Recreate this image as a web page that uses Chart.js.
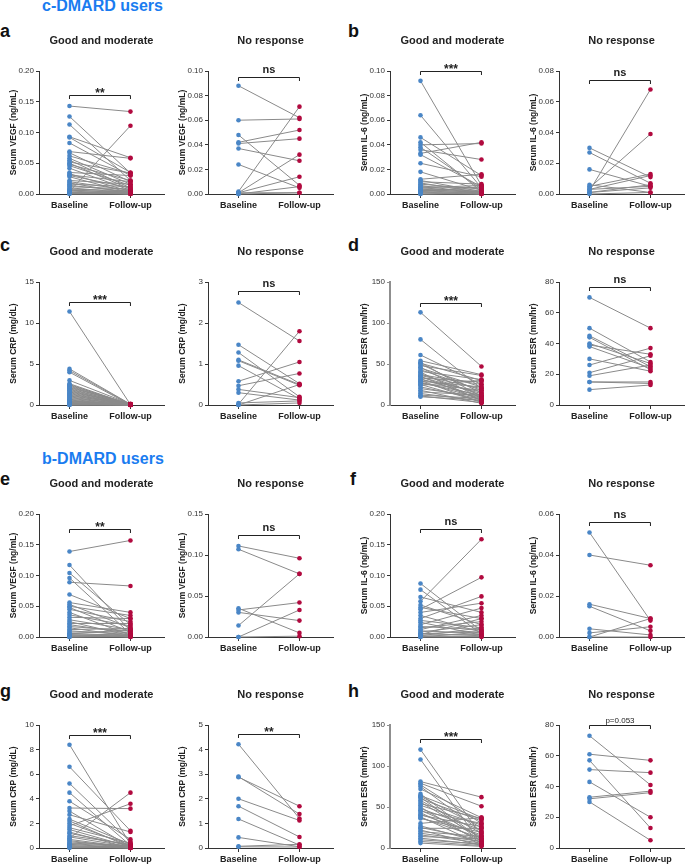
<!DOCTYPE html>
<html lang="en">
<head>
<meta charset="UTF-8">
<title>Serum markers before and after DMARD treatment</title>
<style>
    body {
        margin: 0;
        background: #fff;
        width: 685px;
        height: 866px;
        position: relative;
        overflow: hidden;
        font-family: 'Liberation Sans', Arial, sans-serif;
    }
    .group {
        position: absolute;
        left: 42px;
        font-size: 16px;
        line-height: 16px;
        font-weight: bold;
        color: #1a7cf0;
        white-space: nowrap;
    }
    .letter {
        position: absolute;
        font-size: 18px;
        line-height: 18px;
        font-weight: bold;
        color: #111;
    }
    canvas { position: absolute; }
</style>
</head>
<body>
<div class="group" style="top:-2px">c-DMARD users</div>
<div class="group" style="top:451px">b-DMARD users</div>
<div class="letter" style="left:0px;top:22px">a</div>
<div class="letter" style="left:348px;top:22px">b</div>
<div class="letter" style="left:0px;top:236px">c</div>
<div class="letter" style="left:348px;top:236px">d</div>
<div class="letter" style="left:0px;top:470px">e</div>
<div class="letter" style="left:350px;top:470px">f</div>
<div class="letter" style="left:0px;top:682px">g</div>
<div class="letter" style="left:348px;top:682px">h</div>

<script src="https://cdn.jsdelivr.net/npm/chart.js"></script>
<script>
// x categories
const timeLabels = ['Baseline', 'Follow-up'];

// c-DMARD users
const vegfGoodCBase = [0.143, 0.126, 0.113, 0.093, 0.092, 0.083, 0.069, 0.067, 0.062, 0.058,
    0.055, 0.052, 0.050, 0.048, 0.046, 0.042, 0.035, 0.033, 0.031, 0.030,
    0.028, 0.022, 0.020, 0.018, 0.016, 0.014, 0.012, 0.010, 0.008, 0.007,
    0.006, 0.005, 0.004, 0.003, 0.003, 0.002, 0.002, 0.001, 0.001, 0.000];
const vegfGoodCFollow = [0.134, 0.034, 0.022, 0.059, 0.035, 0.030, 0.058, 0.020, 0.033, 0.016,
    0.010, 0.034, 0.008, 0.022, 0.014, 0.006, 0.030, 0.004, 0.020, 0.010,
    0.002, 0.016, 0.006, 0.001, 0.012, 0.004, 0.008, 0.002, 0.005, 0.001,
    0.003, 0.000, 0.111, 0.002, 0.001, 0.004, 0.000, 0.002, 0.001, 0.000];
const vegfNoCBase = [0.088, 0.060, 0.048, 0.042, 0.041, 0.037, 0.024, 0.002, 0.001, 0.001, 0.000, 0.000, 0.001];
const vegfNoCFollow = [0.062, 0.061, 0.007, 0.052, 0.045, 0.027, 0.005, 0.071, 0.032, 0.014, 0.006, 0.001, 0.001];

const il6GoodCBase = [0.092, 0.064, 0.046, 0.042, 0.040, 0.038, 0.036, 0.033, 0.032, 0.025,
    0.018, 0.012, 0.011, 0.010, 0.009, 0.008, 0.007, 0.006, 0.005, 0.005,
    0.004, 0.004, 0.003, 0.003, 0.002, 0.002, 0.001, 0.001, 0.000, 0.000];
const il6GoodCFollow = [0.007, 0.005, 0.015, 0.002, 0.041, 0.004, 0.028, 0.042, 0.006, 0.014,
    0.003, 0.016, 0.002, 0.008, 0.001, 0.004, 0.000, 0.005, 0.002, 0.007,
    0.001, 0.003, 0.000, 0.002, 0.001, 0.006, 0.000, 0.002, 0.001, 0.000];
const il6NoCBase = [0.030, 0.027, 0.016, 0.006, 0.005, 0.004, 0.003, 0.002, 0.001, 0.000, 0.001, 0.003];
const il6NoCFollow = [0.011, 0.007, 0.005, 0.001, 0.013, 0.039, 0.012, 0.068, 0.004, 0.001, 0.006, 0.005];

const crpGoodCBase = [11.4, 4.4, 4.2, 4.0, 3.0, 2.6, 2.5, 2.4, 2.3, 2.2,
    2.1, 2.0, 1.9, 1.8, 1.7, 1.6, 1.5, 1.4, 1.3, 1.2,
    1.1, 1.0, 0.9, 0.8, 0.7, 0.6, 0.5, 0.5, 0.4, 0.4,
    0.3, 0.3, 0.2, 0.2, 0.1, 0.1, 0.1, 0.05, 0.0, 0.0];
const crpGoodCFollow = [0.05, 0.10, 0.08, 0.02, 0.12, 0.05, 0.00, 0.10, 0.03, 0.06,
    0.15, 0.02, 0.08, 0.00, 0.05, 0.10, 0.03, 0.00, 0.07, 0.02,
    0.10, 0.00, 0.04, 0.06, 0.00, 0.02, 0.05, 0.00, 0.03, 0.08,
    0.00, 0.01, 0.00, 0.04, 0.02, 0.00, 0.03, 0.01, 0.00, 0.02];
const crpNoCBase = [2.50, 1.47, 1.28, 1.10, 1.08, 0.96, 0.58, 0.47, 0.38, 0.30, 0.02, 0.05, 0.00, 0.00];
const crpNoCFollow = [1.56, 0.52, 0.20, 0.50, 0.48, 0.15, 1.05, 0.77, 0.18, 0.12, 1.80, 0.10, 0.50, 0.05];

const esrGoodCBase = [113, 80, 61, 54, 52, 51, 50, 48, 46, 45,
    43, 41, 40, 38, 37, 36, 35, 34, 33, 32,
    31, 30, 29, 28, 27, 26, 25, 24, 22, 20,
    18, 16, 14, 12, 11, 10];
const esrGoodCFollow = [47, 20, 25, 37, 10, 30, 15, 36, 8, 22,
    18, 31, 5, 12, 25, 20, 6, 14, 28, 10,
    16, 3, 22, 8, 12, 18, 4, 30, 7, 10,
    2, 12, 5, 8, 3, 6];
const esrNoCBase = [70, 50, 45, 44, 40, 39, 38, 30, 26, 21, 19, 15, 15, 10];
const esrNoCFollow = [50, 28, 25, 23, 27, 33, 24, 22, 37, 32, 26, 15, 14, 13];

// b-DMARD users
const vegfGoodBBase = [0.139, 0.117, 0.104, 0.096, 0.089, 0.069, 0.056, 0.053, 0.050, 0.048,
    0.045, 0.040, 0.036, 0.032, 0.028, 0.025, 0.022, 0.020, 0.017, 0.015,
    0.012, 0.010, 0.008, 0.006, 0.005, 0.004, 0.003, 0.002, 0.001, 0.000, 0.000];
const vegfGoodBFollow = [0.157, 0.010, 0.020, 0.005, 0.083, 0.030, 0.040, 0.015, 0.035, 0.008,
    0.025, 0.003, 0.018, 0.030, 0.012, 0.002, 0.022, 0.006, 0.010, 0.001,
    0.014, 0.004, 0.008, 0.002, 0.012, 0.000, 0.005, 0.003, 0.001, 0.002, 0.000];
const vegfNoBBase = [0.111, 0.107, 0.014, 0.035, 0.033, 0.030, 0.000, 0.000];
const vegfNoBFollow = [0.096, 0.077, 0.077, 0.005, 0.042, 0.020, 0.033, 0.001];

const il6GoodBBase = [0.087, 0.077, 0.065, 0.058, 0.052, 0.048, 0.045, 0.040, 0.035, 0.030,
    0.027, 0.024, 0.020, 0.017, 0.015, 0.012, 0.010, 0.008, 0.006, 0.005,
    0.004, 0.003, 0.002, 0.001, 0.000, 0.000];
const il6GoodBFollow = [0.010, 0.005, 0.040, 0.159, 0.020, 0.030, 0.097, 0.055, 0.008, 0.066,
    0.015, 0.003, 0.047, 0.012, 0.025, 0.035, 0.006, 0.020, 0.002, 0.010,
    0.030, 0.004, 0.015, 0.001, 0.008, 0.000];
const il6NoBBase = [0.051, 0.040, 0.016, 0.015, 0.004, 0.002, 0.000, 0.000];
const il6NoBFollow = [0.008, 0.035, 0.009, 0.003, 0.001, 0.005, 0.000, 0.009];

const crpGoodBBase = [8.4, 6.6, 5.25, 4.5, 3.8, 3.25, 3.0, 2.7, 2.35, 2.2,
    2.0, 1.8, 1.65, 1.5, 1.3, 1.2, 1.0, 0.9, 0.8, 0.7,
    0.6, 0.5, 0.4, 0.35, 0.3, 0.2, 0.15, 0.1, 0.05, 0.0];
const crpGoodBFollow = [0.3, 1.4, 0.5, 0.2, 0.7, 3.2, 0.1, 1.3, 0.3, 0.05,
    0.2, 3.6, 0.4, 0.1, 0.0, 0.2, 0.3, 0.1, 4.5, 0.05,
    0.0, 0.15, 0.2, 0.1, 0.0, 0.05, 0.1, 0.0, 0.05, 0.0];
const crpNoBBase = [4.22, 2.90, 2.88, 2.00, 1.70, 1.18, 0.43, 0.07, 0.05];
const crpNoBFollow = [1.20, 1.38, 1.70, 1.12, 0.45, 0.12, 0.05, 0.15, 0.04];

const esrGoodBBase = [120, 108, 81, 79, 77, 75, 72, 66, 64, 63,
    62, 60, 58, 56, 54, 52, 50, 48, 46, 45,
    43, 41, 40, 38, 37, 36, 30, 27, 25, 24,
    22, 20, 18, 16, 14, 12, 10, 8, 6];
const esrGoodBFollow = [15, 5, 62, 51, 30, 20, 37, 10, 35, 25,
    8, 33, 18, 12, 36, 28, 6, 22, 14, 30,
    9, 16, 26, 4, 12, 19, 37, 7, 10, 24,
    3, 14, 8, 6, 11, 4, 5, 3, 2];
const esrNoBBase = [73, 61, 57, 51, 43, 33, 32, 30];
const esrNoBFollow = [41, 57, 13, 49, 20, 37, 36, 5];

const BLUE = '#4a86c6';
const RED = '#b10a3f';
const GOOD = 'Good and moderate';
const NONE = 'No response';
const VEGF = 'Serum VEGF (ng/mL)';
const IL6 = 'Serum IL-6 (ng/mL)';
const CRP = 'Serum CRP (mg/dL)';
const ESR = 'Serum ESR (mm/hr)';

// axis x position of each column, top of each row
const cols = [39, 208, 390, 559];
const rows = [71, 282, 514, 725];

const panels = [
    { c: 0, r: 0, base: vegfGoodCBase, fol: vegfGoodCFollow, max: 0.20, step: 0.05, dec: 2, yt: VEGF, title: GOOD, by: 0.161, sig: '**' },
    { c: 1, r: 0, base: vegfNoCBase, fol: vegfNoCFollow, max: 0.10, step: 0.02, dec: 2, yt: VEGF, title: NONE, by: 0.095, sig: 'ns' },
    { c: 2, r: 0, base: il6GoodCBase, fol: il6GoodCFollow, max: 0.10, step: 0.02, dec: 2, yt: IL6, title: GOOD, by: 0.10, sig: '***' },
    { c: 3, r: 0, base: il6NoCBase, fol: il6NoCFollow, max: 0.08, step: 0.02, dec: 2, yt: IL6, title: NONE, by: 0.074, sig: 'ns' },
    { c: 0, r: 1, base: crpGoodCBase, fol: crpGoodCFollow, max: 15, step: 5, dec: 0, yt: CRP, title: GOOD, by: 12.6, sig: '***' },
    { c: 1, r: 1, base: crpNoCBase, fol: crpNoCFollow, max: 3, step: 1, dec: 0, yt: CRP, title: NONE, by: 2.77, sig: 'ns' },
    { c: 2, r: 1, base: esrGoodCBase, fol: esrGoodCFollow, max: 150, step: 50, dec: 0, yt: ESR, title: GOOD, by: 125, sig: '***', grey: true },
    { c: 3, r: 1, base: esrNoCBase, fol: esrNoCFollow, max: 80, step: 20, dec: 0, yt: ESR, title: NONE, by: 77, sig: 'ns' },
    { c: 0, r: 2, base: vegfGoodBBase, fol: vegfGoodBFollow, max: 0.20, step: 0.05, dec: 2, yt: VEGF, title: GOOD, by: 0.175, sig: '**' },
    { c: 1, r: 2, base: vegfNoBBase, fol: vegfNoBFollow, max: 0.15, step: 0.05, dec: 2, yt: VEGF, title: NONE, by: 0.124, sig: 'ns' },
    { c: 2, r: 2, base: il6GoodBBase, fol: il6GoodBFollow, max: 0.20, step: 0.05, dec: 2, yt: IL6, title: GOOD, by: 0.175, sig: 'ns' },
    { c: 3, r: 2, base: il6NoBBase, fol: il6NoBFollow, max: 0.06, step: 0.02, dec: 2, yt: IL6, title: NONE, by: 0.056, sig: 'ns' },
    { c: 0, r: 3, base: crpGoodBBase, fol: crpGoodBFollow, max: 10, step: 2, dec: 0, yt: CRP, title: GOOD, by: 9.2, sig: '***' },
    { c: 1, r: 3, base: crpNoBBase, fol: crpNoBFollow, max: 5, step: 1, dec: 0, yt: CRP, title: NONE, by: 4.63, sig: '**' },
    { c: 2, r: 3, base: esrGoodBBase, fol: esrGoodBFollow, max: 150, step: 50, dec: 0, yt: ESR, title: GOOD, by: 133, sig: '***', grey: true },
    { c: 3, r: 3, base: esrNoBBase, fol: esrNoBFollow, max: 80, step: 20, dec: 0, yt: ESR, title: NONE, by: 80, sig: 'p=0.053' }
];

const FONT = "'Liberation Sans', Arial, sans-serif";
const Y_W = 40, X_H = 22, PAD_TOP = 40, PLOT_H = 123, PLOT_W = 125;

// panel title and significance bracket
const bracketPlugin = {
    id: 'bracket',
    afterDraw(chart, args, opts) {
        const ctx = chart.ctx;
        const area = chart.chartArea;
        const x = chart.scales.x, y = chart.scales.y;
        ctx.save();
        ctx.fillStyle = '#222';
        ctx.textAlign = 'center';
        ctx.textBaseline = 'middle';
        ctx.font = 'bold 11px ' + FONT;
        ctx.fillText(opts.title, (area.left + area.right) / 2, area.top - 30);

        const x0 = x.getPixelForValue(0), x1 = x.getPixelForValue(1);
        const by = Math.round(y.getPixelForValue(opts.y)) + 0.5;
        ctx.strokeStyle = '#222';
        ctx.lineWidth = 1;
        ctx.beginPath();
        ctx.moveTo(x0, by + 3.5);
        ctx.lineTo(x0, by);
        ctx.lineTo(x1, by);
        ctx.lineTo(x1, by + 3.5);
        ctx.stroke();

        ctx.textBaseline = 'alphabetic';
        const mid = (x0 + x1) / 2;
        if (opts.sig === 'ns') {
            ctx.font = 'bold 11px ' + FONT;
            ctx.fillText('ns', mid, by - 5);
        } else if (opts.sig.startsWith('p')) {
            ctx.font = '8px ' + FONT;
            ctx.fillText(opts.sig, mid, by - 3);
        } else {
            ctx.font = 'bold 12px ' + FONT;
            ctx.fillText(opts.sig, mid, by + 1);
        }
        ctx.restore();
    }
};

panels.forEach(p => {
    const canvas = document.createElement('canvas');
    canvas.width = Y_W + PLOT_W + 5;
    canvas.height = PAD_TOP + PLOT_H + X_H;
    canvas.style.left = (cols[p.c] - Y_W) + 'px';
    canvas.style.top = (rows[p.r] - PAD_TOP) + 'px';
    document.body.appendChild(canvas);

    const axisColor = p.grey ? '#8f8f8f' : '#333';
    const axisWidth = p.grey ? 2 : 1;

    const datasets = [
        {
            data: p.base.map(v => ({ x: 0, y: v })),
            showLine: false, pointRadius: 2.3, pointBorderWidth: 0,
            pointBackgroundColor: BLUE, clip: false, order: 0
        },
        {
            data: p.fol.map(v => ({ x: 1, y: v })),
            showLine: false, pointRadius: 2.3, pointBorderWidth: 0,
            pointBackgroundColor: RED, clip: false, order: 0
        }
    ];
    p.base.forEach((b, i) => {
        datasets.push({
            data: [{ x: 0, y: b }, { x: 1, y: p.fol[i] }],
            borderColor: '#8a8a8a', borderWidth: 1, pointRadius: 0,
            clip: false, order: 1
        });
    });

    new Chart(canvas, {
        type: 'line',
        data: { datasets },
        plugins: [bracketPlugin],
        options: {
            responsive: false,
            animation: false,
            devicePixelRatio: 1,
            layout: { padding: { top: PAD_TOP, left: 0, right: 5, bottom: 0 } },
            plugins: {
                legend: { display: false },
                tooltip: { enabled: false },
                bracket: { title: p.title, y: p.by, sig: p.sig }
            },
            scales: {
                x: {
                    type: 'linear', min: -0.5, max: 1.55,
                    afterBuildTicks: s => { s.ticks = timeLabels.map((_, i) => ({ value: i })); },
                    afterFit: s => { s.height = X_H; },
                    ticks: {
                        callback: v => timeLabels[v],
                        autoSkip: false, maxRotation: 0, padding: 2,
                        color: '#222', font: { family: FONT, size: 9, weight: 'bold' }
                    },
                    grid: { display: true, drawOnChartArea: false, drawTicks: true, tickLength: 4, color: '#333' },
                    border: { display: true, color: '#333', width: 1 }
                },
                y: {
                    min: 0, max: p.max,
                    afterBuildTicks: s => {
                        const n = Math.round(p.max / p.step);
                        const t = [];
                        for (let i = 0; i <= n; i++) t.push({ value: +(i * p.step).toFixed(4) });
                        s.ticks = t;
                    },
                    afterFit: s => { s.width = Y_W; },
                    ticks: {
                        callback: v => Number(v).toFixed(p.dec),
                        padding: 2, color: '#333', font: { family: FONT, size: 8 }
                    },
                    grid: { display: true, drawOnChartArea: false, drawTicks: true, tickLength: 3, color: axisColor },
                    border: { display: true, color: axisColor, width: axisWidth },
                    title: {
                        display: true, text: p.yt, color: '#222',
                        padding: { top: 10, bottom: 0 },
                        font: { family: FONT, size: 8.5, weight: 'bold' }
                    }
                }
            }
        }
    });
});
</script>
</body>
</html>
